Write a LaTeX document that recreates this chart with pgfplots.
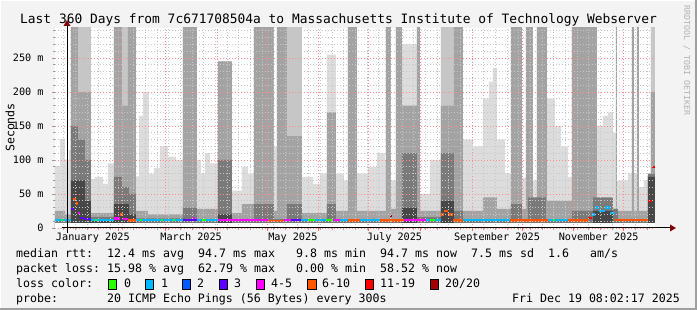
\documentclass[border=0pt]{standalone}
\usepackage{pgfplots}
\pgfplotsset{compat=1.18}
\usepackage{fontspec}
\setmainfont{DejaVu Sans Mono}
\setmonofont{DejaVu Sans Mono}
\definecolor{bg}{HTML}{F3F3F3}
\definecolor{smokeL}{HTML}{DCDCDC}
\definecolor{smokeLT}{HTML}{C6C6C6}
\definecolor{smokeM}{HTML}{A3A3A3}
\definecolor{smokeD}{HTML}{7A7A7A}
\definecolor{smokeDD}{HTML}{474747}
\definecolor{lc0}{HTML}{26FF00}
\definecolor{lc1}{HTML}{00B8FF}
\definecolor{lc2}{HTML}{0059FF}
\definecolor{lc3}{HTML}{5E00FF}
\definecolor{lc4}{HTML}{FF00FF}
\definecolor{lc6}{HTML}{FF5500}
\definecolor{lc11}{HTML}{FF0000}
\definecolor{lc20}{HTML}{A10000}
\definecolor{arrowred}{HTML}{800000}
\newcommand{\legfont}{\fontsize{11.6}{13}\selectfont}
\begin{document}
\begin{tikzpicture}[x=1pt,y=1pt]
\fill[bg] (0pt,0pt) rectangle (697pt,310pt);
\fill[white] (0pt,309pt) rectangle (697pt,310pt);
\fill[white] (0pt,0pt) rectangle (1pt,310pt);
\fill[gray!75] (0pt,0pt) rectangle (697pt,2pt);
\fill[gray!75] (695pt,0pt) rectangle (697pt,310pt);
\begin{axis}[
  at={(67pt,82pt)}, anchor=origin,
  scale only axis, width=600pt, height=200pt,
  xmin=-7.3, xmax=352.7, ymin=0, ymax=294,
  axis on top,
  axis background/.style={fill=white},
  axis line style={draw=none},
  xtick pos=left, ytick pos=left,
  xtick={0,31,59,90,120,151,181,212,243,273,304,334},
  xticklabels={},
  minor xtick={-2,5,...,348},
  extra x ticks={15.5,74.5,135.5,196.5,258,319},
  extra x tick labels={January 2025,March 2025,May 2025,July 2025,September 2025,November 2025},
  extra x tick style={grid=none, major tick length=0pt},
  ytick={0,50,100,150,200,250},
  yticklabels={0,50 m,100 m,150 m,200 m,250 m},
  minor ytick={10,20,30,40,60,70,80,90,110,120,130,140,160,170,180,190,210,220,230,240,260,270,280,290},
  grid=both,
  major grid style={color=red!45, dash pattern=on 1pt off 2pt, line width=0.7pt},
  minor grid style={color=gray!45, dash pattern=on 1pt off 2pt, line width=0.7pt},
  tick align=outside,
  major tick length=3pt, minor tick length=2pt,
  major tick style={color=red!60, line width=0.7pt},
  minor tick style={color=gray!70, line width=0.7pt},
  ytick style={color=gray!80},
  tick label style={font=\fontsize{10.2}{12}\selectfont, inner sep=0pt},
  yticklabel style={anchor=east, xshift=-8pt},
  xticklabel style={anchor=north, yshift=-5pt},
  unbounded coords=jump,
  clip=true,
]
% light smoke
\addplot[const plot, fill=smokeL, draw=none] coordinates {
(-7.3,91) (-4.3,131) (-1.3,101) (1.1,115) (2.3,300) (14.3,72) (16.7,75) (21.5,65) (24.5,95) (28.1,300) (41.3,76) (43.1,165) (45.5,200) (49.1,80) (52.1,88) (55.7,120) (60.5,105) (65.3,100) (69.5,300) (77.9,100) (80.3,80) (82.7,110) (85.7,95) (90.5,245) (98.9,55) (104.9,90) (108.5,80) (112.1,300) (124.1,120) (125.9,300) (140.9,75) (147.5,65) (151.7,80) (155.9,255) (161.3,80) (166.1,70) (168.5,300) (173.9,80) (180.5,90) (185.9,110) (190.7,100) (191.3,300) (194.3,70) (197.3,300) (200.9,270) (209.9,300) (211.7,50) (217.7,100) (224.3,300) (237.5,130) (243.5,120) (249.5,190) (253.1,215) (255.5,235) (257.9,130) (262.7,80) (266.3,300) (272.9,74) (275.3,300) (279.5,70) (281.9,300) (287.9,190) (292.7,150) (296.3,120) (300.5,75) (302.9,300) (317.9,150) (321.5,165) (324.5,170) (327.5,140) (329.9,70) (336.5,80) (342.5,60) (346.1,70) (350.3,300) (352.7,300)
} \closedcycle;
% lighter tall columns
\addplot[const plot, fill=smokeLT, draw=none] coordinates {
(-7.3,0) (6.5,300) (14.3,0) (32.9,300) (36.5,0) (131.9,300) (140.9,0) (224.3,300) (232.1,0) (350.3,300) (352.7,300)
} \closedcycle;
% medium smoke
\addplot[const plot, fill=smokeM, draw=none] coordinates {
(-7.3,25) (-1.3,20) (2.3,300) (6.5,200) (14.3,22) (28.1,300) (32.9,180) (36.5,300) (41.3,25) (48.5,20) (69.5,300) (77.9,28) (90.5,245) (98.9,22) (104.9,35) (112.1,300) (124.1,25) (125.9,300) (131.9,135) (140.9,22) (155.9,170) (161.3,25) (168.5,300) (173.9,25) (191.3,300) (194.3,28) (197.3,300) (200.9,180) (209.9,300) (211.7,25) (224.3,180) (232.1,300) (237.5,25) (249.5,45) (257.9,28) (266.3,300) (272.9,28) (275.3,300) (279.5,35) (281.9,300) (287.9,40) (302.9,300) (317.9,28) (329.3,300) (329.9,25) (338.9,300) (340.1,25) (341.9,300) (343.1,25) (350.3,200) (352.7,200)
} \closedcycle;
% dark smoke
\addplot[const plot, fill=smokeD, draw=none] coordinates {
(-7.3,13) (2.3,150) (6.5,130) (10.7,100) (14.3,16) (28.1,75) (32.9,60) (37.1,50) (41.3,14) (69.5,30) (77.9,13) (90.5,100) (98.9,13) (112.1,35) (124.1,13) (131.9,35) (140.9,13) (155.9,35) (161.3,13) (200.9,110) (209.9,16) (224.3,110) (232.1,25) (237.5,13) (266.3,35) (272.9,13) (276.5,45) (287.3,13) (302.9,25) (315.5,45) (327.5,28) (330.5,13) (348.5,80) (352.7,80)
} \closedcycle;
% darkest smoke
\addplot[const plot, fill=smokeDD, draw=none] coordinates {
(-7.3,0) (2.3,70) (10.7,40) (14.3,10) (28.1,35) (37.1,20) (41.3,0) (90.5,20) (98.9,0) (200.9,30) (209.9,0) (224.3,40) (232.1,0) (315.5,25) (327.5,0) (348.5,75) (352.7,75)
} \closedcycle;
% empty band below the fastest pings
\addplot[fill=white, draw=none] coordinates {(-7.3,8) (352.7,8)} \closedcycle;
% median rtt, coloured by loss
\addplot[draw=lc1, line width=2.5pt] coordinates {
(-7.3,11.5)(2.3,11.5)(2.3,nan)
(14.3,11.5)(28.1,11.5)(28.1,nan)
(41.3,11.5)(69.5,11.5)(69.5,nan)
(77.9,11.5)(80.9,11.5)(80.9,nan)
(83.3,11.5)(90.5,11.5)(90.5,nan)
(140.3,11.5)(144.5,11.5)(144.5,nan)
(148.7,11.5)(155.3,11.5)(155.3,nan)
(163.7,11.5)(168.5,11.5)(168.5,nan)
(175.7,11.5)(187.7,11.5)(187.7,nan)
(215.3,11.5)(217.7,11.5)(217.7,nan)
(220.7,11.5)(224.3,11.5)(224.3,nan)
(237.5,11.5)(265.7,11.5)(265.7,nan)
(288.5,11.5)(300.5,11.5)(300.5,nan)
(314.9,20)(316.7,20)(316.7,nan)
(316.7,30)(319.1,30)(319.1,nan)
(319.1,25)(322.7,25)(322.7,nan)
(322.7,30)(325.7,30)(325.7,nan)
(325.7,22)(328.7,22)
};
\addplot[draw=lc0, line width=2.5pt] coordinates {
(-3.7,11.5)(-2.5,11.5)(-2.5,nan)
(16.7,11.5)(17.9,11.5)(17.9,nan)
(43.7,11.5)(44.9,11.5)(44.9,nan)
(56.3,11.5)(57.5,11.5)(57.5,nan)
(63.5,11.5)(64.7,11.5)(64.7,nan)
(80.9,11.5)(83.3,11.5)(83.3,nan)
(144.5,11.5)(148.7,11.5)(148.7,nan)
(155.3,11.5)(159.5,11.5)(159.5,nan)
(217.7,11.5)(220.7,11.5)(220.7,nan)
(291.5,11.5)(292.7,11.5)
};
\addplot[draw=lc3, line width=2.5pt] coordinates {
(2.3,28)(4.1,28)(4.1,nan)
(7.7,15)(10.1,15)(10.1,nan)
(10.1,13)(14.3,13)(14.3,nan)
(69.5,11.5)(77.9,11.5)(77.9,nan)
(134.3,11.5)(140.3,11.5)
};
\addplot[draw=lc4, line width=2.5pt] coordinates {
(6.5,22)(7.7,22)(7.7,nan)
(28.1,14)(31.7,14)(31.7,nan)
(33.5,13)(36.5,13)(36.5,nan)
(75.5,15)(76.7,15)(76.7,nan)
(90.5,11.5)(120.5,11.5)(120.5,nan)
(130.1,11.5)(134.3,11.5)(134.3,nan)
(159.5,11.5)(163.7,11.5)(163.7,nan)
(202.1,12)(215.3,12)
};
\addplot[draw=lc6, line width=2.5pt] coordinates {
(3.5,42)(5.3,42)(5.3,nan)
(5.3,36)(6.5,36)(6.5,nan)
(31.7,20)(33.5,20)(33.5,nan)
(36.5,11)(41.3,11)(41.3,nan)
(120.5,10)(130.1,10)(130.1,nan)
(168.5,11)(175.7,11)(175.7,nan)
(187.7,11)(202.1,11)(202.1,nan)
(224.3,20)(226.1,20)(226.1,nan)
(226.1,25)(228.5,25)(228.5,nan)
(228.5,20)(231.5,20)(231.5,nan)
(231.5,11)(237.5,11)(237.5,nan)
(265.7,11)(288.5,11)(288.5,nan)
(300.5,11)(312.5,11)(312.5,nan)
(328.7,12)(348.5,12)
};
\addplot[draw=lc11, line width=2.5pt] coordinates {
(312.5,15)(314.9,15)(314.9,nan)
(348.5,40)(350.9,40)(350.9,nan)
(350.9,90)(352.7,90)
};
\addplot[draw=lc20, line width=2.5pt] coordinates {
(193.7,18)(194.9,18)
};
\end{axis}
% axes with rrdtool style arrows
\draw[black, line width=1pt] (62pt,82pt) -- (670pt,82pt);
\fill[arrowred] (670pt,78.5pt) -- (676pt,82pt) -- (670pt,85.5pt) -- cycle;
\draw[black, line width=1pt] (67pt,77pt) -- (67pt,284pt);
\fill[arrowred] (63.5pt,284pt) -- (67pt,290pt) -- (70.5pt,284pt) -- cycle;
% titles
\node[anchor=base west, inner sep=0pt, font=\fontsize{12.9}{15}\selectfont] at (20pt,286pt) {Last 360 Days from 7c671708504a to Massachusetts Institute of Technology Webserver};
\node[rotate=90, inner sep=0pt, font=\legfont] at (10pt,182.5pt) {Seconds};
\node[rotate=-90, anchor=west, inner sep=0pt, text=gray!60, font=\fontsize{8.3}{10}\selectfont] at (686.7pt,305pt) {RRDTOOL / TOBI OETIKER};
% legend
\begin{scope}[every node/.style={anchor=base west, inner sep=0pt, font=\legfont}]
\node at (16pt,52pt) {median rtt:};
\node at (107pt,52pt) {12.4 ms avg};
\node at (198pt,52pt) {94.7 ms max};
\node at (296pt,52pt) {9.8 ms min};
\node at (380pt,52pt) {94.7 ms now};
\node at (471pt,52pt) {7.5 ms sd};
\node at (548pt,52pt) {1.6};
\node at (590pt,52pt) {am/s};
\node at (16pt,37pt) {packet loss:};
\node at (107pt,37pt) {15.98 \% avg};
\node at (198pt,37pt) {62.79 \% max};
\node at (296pt,37pt) {0.00 \% min};
\node at (380pt,37pt) {58.52 \% now};
\node at (16pt,22pt) {loss color:};
\node at (124pt,22pt) {0};
\node at (161pt,22pt) {1};
\node at (197pt,22pt) {2};
\node at (234pt,22pt) {3};
\node at (271pt,22pt) {4-5};
\node at (322pt,22pt) {6-10};
\node at (380pt,22pt) {11-19};
\node at (445pt,22pt) {20/20};
\node at (16pt,7pt) {probe:};
\node at (107pt,7pt) {20 ICMP Echo Pings (56 Bytes) every 300s};
\end{scope}
\node[anchor=base east, inner sep=0pt, font=\legfont] at (680pt,7pt) {Fri Dec 19 08:02:17 2025};
\begin{scope}[draw=black, line width=0.6pt]
\filldraw[fill=lc0] (108pt,21pt) rectangle (116.5pt,31pt);
\filldraw[fill=lc1] (145pt,21pt) rectangle (153.5pt,31pt);
\filldraw[fill=lc2] (182pt,21pt) rectangle (190.5pt,31pt);
\filldraw[fill=lc3] (219pt,21pt) rectangle (227.5pt,31pt);
\filldraw[fill=lc4] (256pt,21pt) rectangle (264.5pt,31pt);
\filldraw[fill=lc6] (307.5pt,21pt) rectangle (316pt,31pt);
\filldraw[fill=lc11] (365pt,21pt) rectangle (373.5pt,31pt);
\filldraw[fill=lc20] (430pt,21pt) rectangle (438.5pt,31pt);
\end{scope}
\end{tikzpicture}
\end{document}
